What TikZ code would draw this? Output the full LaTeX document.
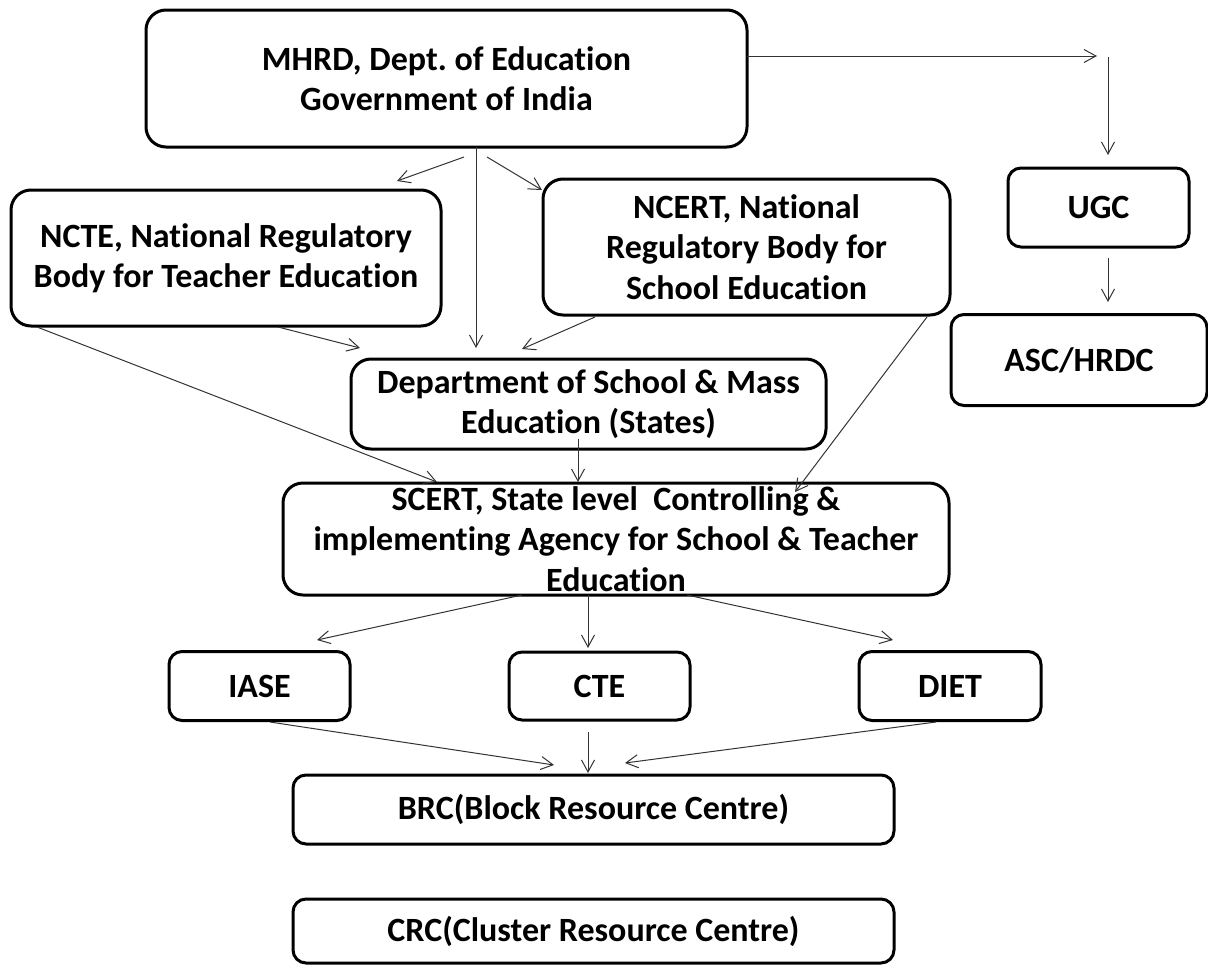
\documentclass[tikz,border=0pt]{standalone}
\usepackage{fontspec}
\setmainfont{Carlito}[Ligatures=NoCommon]
\usetikzlibrary{arrows.meta}
\frenchspacing
\begin{document}
\begin{tikzpicture}[x=1pt,y=-1pt,
  box/.style={draw=black, line width=3pt, rounded corners=20pt, align=center,
    inner sep=0pt, font=\bfseries\fontsize{34}{40.5}\selectfont},
  smallbox/.style={box, rounded corners=13pt},
  conn/.style={draw=black!80, line width=1pt, -{Straight Barb[length=12pt,width=13pt]}},
]
\useasboundingbox (0,0) rectangle (1208,967);

\node[box, minimum width=601pt, minimum height=137pt] (mhrd) at (446.5,78.5) {MHRD, Dept. of Education\\Government of India};
\node[box, minimum width=430pt, minimum height=136pt] (ncte) at (226,258) {NCTE, National Regulatory\\Body for Teacher Education};
\node[box, minimum width=407pt, minimum height=136pt] (ncert) at (746.5,247) {NCERT, National\\Regulatory Body for\\School Education};
\node[box, minimum width=475pt, minimum height=90pt] (dept) at (588.5,404) {Department of School \& Mass\\Education (States)};
\node[box, minimum width=666pt, minimum height=112pt] (scert) at (616,539) {SCERT, State level\ \ Controlling \&\\implementing Agency for School \& Teacher\\Education};
\node[smallbox, minimum width=181pt, minimum height=79pt] (ugc) at (1098.5,207.5) {UGC};
\node[smallbox, minimum width=256pt, minimum height=91pt] (asc) at (1079,360) {ASC/HRDC};
\node[smallbox, minimum width=181pt, minimum height=69pt] (iase) at (259.5,686) {IASE};
\node[smallbox, minimum width=181pt, minimum height=68pt] (cte) at (599.5,686) {CTE};
\node[smallbox, minimum width=182pt, minimum height=69pt] (diet) at (950,686) {DIET};
\node[smallbox, minimum width=601pt, minimum height=69pt] (brc) at (593.5,809.5) {BRC(Block Resource Centre)};
\node[smallbox, minimum width=601pt, minimum height=64pt] (crc) at (593.5,931) {CRC(Cluster Resource Centre)};

% connector end points
\coordinate (mA) at (464,157);   \coordinate (ncteT) at (397,181);
\coordinate (mB) at (476,147);   \coordinate (deptT) at (476,348);
\coordinate (mC) at (487,157);   \coordinate (ncertT) at (542,190);
\coordinate (nA) at (278,327);   \coordinate (deptL) at (360,348);
\coordinate (nB) at (595,317);   \coordinate (deptR) at (522,349);
\coordinate (nC) at (37,327);    \coordinate (scertL) at (437,482);
\coordinate (nD) at (927,317);   \coordinate (scertR) at (795,492);
\coordinate (dA) at (578,439);   \coordinate (scertM) at (578,482);
\coordinate (mR) at (747,56);    \coordinate (corner) at (1097,56);
\coordinate (uTop) at (1108,57); \coordinate (ugcT) at (1108,155);
\coordinate (uB) at (1108,258);  \coordinate (ascT) at (1108,302);
\coordinate (sA) at (522,595);   \coordinate (iaseT) at (317,640);
\coordinate (sB) at (588,595);   \coordinate (cteT) at (588,648);
\coordinate (sC) at (687,595);   \coordinate (dietT) at (893,640);
\coordinate (iB) at (270,722);   \coordinate (brcL) at (554,765);
\coordinate (cB) at (588,732);   \coordinate (brcM) at (588,773);
\coordinate (tB) at (936,722);   \coordinate (brcR) at (625,763);

\draw[conn] (mA) -- (ncteT);
\draw[conn] (mB) -- (deptT);
\draw[conn] (mC) -- (ncertT);
\draw[conn] (nA) -- (deptL);
\draw[conn] (nB) -- (deptR);
\draw[conn] (nC) -- (scertL);
\draw[conn] (nD) -- (scertR);
\draw[conn] (dA) -- (scertM);
\draw[conn] (mR) -- (corner);
\draw[conn] (uTop) -- (ugcT);
\draw[conn] (uB) -- (ascT);
\draw[conn] (sA) -- (iaseT);
\draw[conn] (sB) -- (cteT);
\draw[conn] (sC) -- (dietT);
\draw[conn] (iB) -- (brcL);
\draw[conn] (cB) -- (brcM);
\draw[conn] (tB) -- (brcR);
\end{tikzpicture}
\end{document}
